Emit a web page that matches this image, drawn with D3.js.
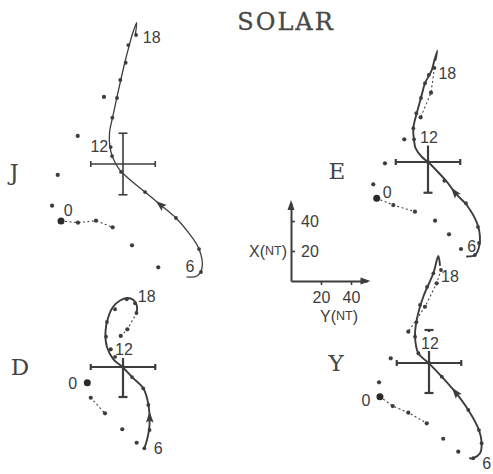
<!DOCTYPE html>
<html>
<head>
<meta charset="utf-8">
<script src="https://cdn.jsdelivr.net/npm/d3@7"></script>
<style>
  html, body { margin: 0; padding: 0; background: #fff; }
  svg { display: block; }
</style>
</head>
<body>
<svg id="chart" width="493" height="474"></svg>
<script>
// ---- Data: Sq hodographs, [ΔY, ΔX] in nT relative to the daily mean ----
const panelNames = ["J", "E", "D", "Y"];
const title = "SOLAR";

// Smooth daytime traces (hour ~6 to hour ~18)
const curveJ = [[42.7,-75.3],[49.3,-74.7],[52.7,-69.3],[50.7,-56.7],[43.3,-45.3],[35.3,-36],[26.7,-28.7],[14.7,-18.7],[3.3,-9.3],[-2.7,-3.3],[-6.7,4],[-8.7,11.3],[-9,20.7],[-6.9,31.3],[-1.5,56],[1.3,68],[4.2,79.3],[6.7,88],[9.1,94.2],[8.3,86.7]];
const curveE = [[26,-63],[31.3,-62],[34.3,-55.3],[33.5,-43.1],[25.8,-28.7],[18.7,-21.3],[12.5,-13.1],[6,-6],[0.2,-0.2],[-4.2,3.5],[-8.3,9.3],[-9.3,14.7],[-9.8,22.5],[-7.5,32.5],[-4.7,42.7],[-2,52.5],[2.5,61.3],[4.3,68],[6.2,74.2],[5,68]];
const curveD = [[14.2,-54.2],[16,-48.7],[17.7,-38.7],[17,-25.3],[13.5,-14.2],[6,-6.7],[-0.2,-0.2],[-6.5,5.3],[-10.7,13.3],[-11.7,23.3],[-10,32.7],[-6.7,40],[-2,44.3],[2.7,46],[7,44.7],[9.3,40.7],[9,36]];
const curveY = [[27.3,-63.5],[29.5,-63.5],[34,-60.2],[35.1,-53.5],[33.3,-44.7],[26.2,-31.3],[17.3,-19.1],[8.5,-9.1],[0,-0.2],[-7.1,6.5],[-9.3,17.5],[-8.2,28.7],[-3.8,44.2],[2.9,59.8],[6.2,71.3],[7.3,65.3]];

// Hourly values [hour, ΔY, ΔX], daylight hours
const dayJ = [[6,52,-72],[7,50.7,-56.7],[8,35.3,-36],[9,14.7,-18.7],[10,-1.3,-5.3],[11,-7.3,5.3],[12,-8.2,11.3],[13,-7.1,30.9],[14,-4,44],[15,-1.8,56],[16,1.8,67.5],[17,3.5,79.3],[18,8.7,86]];
const dayE = [[6,31.3,-62],[7,34,-54],[8,33.3,-43.3],[9,25.3,-27.5],[10,10.9,-12.5],[11,0,0],[12,-9.3,15.1],[13,-9.8,22.5],[14,-7.8,32.5],[15,-4.7,42.7],[16,-2,52.5],[17,0.5,58],[18,4.3,62.7]];
const dayD = [[6,14.2,-54.2],[7,17.7,-42],[8,16.9,-25.3],[9,13.5,-14.2],[10,6,-6.7],[11,0,0],[12,-5.3,6.7],[13,-11.3,20.2],[14,-10.7,30],[15,-5.3,38.5],[16,2.5,45.1],[17,8,42.5],[18,9,36]];
const dayY = [[6,29.5,-63.5],[7,35.1,-53.5],[8,33.3,-44.7],[9,26.2,-31.3],[10,8.5,-9.1],[11,0,0],[12,-7.1,6.5],[13,-9.3,17.5],[14,-8.3,27.3],[15,-6,38.7],[16,-1.3,50.7],[17,2.9,59.8],[18,8,62]];

// Hourly values [hour, ΔY, ΔX], night hours (in time order)
const nightJ = [[19,-12.7,44.7],[20,-30.2,18.7],[21,-43.5,-7.3],[22,-47.3,-27.8],[0,-41.3,-38],[1,-30,-39.1],[2,-18,-37.8],[3,-6.9,-42.2],[4,6,-54.2],[5,23.5,-68.9]];
const nightE = [[19,2,46.2],[20,-4.9,29.8],[21,-15.8,15.1],[22,-28.7,-0.9],[23,-36.5,-14.9],[0,-34.2,-24.2],[1,-23.1,-28.7],[2,-8.7,-33.1],[3,4.7,-39.1],[4,14,-48.2],[5,22,-58]];
const nightD = [[19,2.9,25.1],[20,-1.5,20.7],[21,-8.2,11.8],[0,-23.8,-10.5],[1,-21.5,-20.5],[2,-12,-30.9],[3,-0.5,-41.5],[4,9.1,-50.5]];
const nightY = [[19,5.1,53.1],[20,-2.7,37.5],[21,-13.8,20.9],[22,-25.5,3.1],[23,-33.3,-12.9],[0,-32.7,-22.5],[1,-24.2,-28.7],[2,-13.8,-33.1],[3,-1.5,-40.2],[4,9.5,-50.5],[5,19.5,-59.1]];

// Error bars (nT): ±ΔY, upward ΔX, downward ΔX
const errY = [21.5, 21.5, 21.5, 21.5];
const errXUp = [20.5, 11, 6, 22];
const errXDown = [20.5, 20.5, 20, 20];

const hourMarks = ["0", "6", "12", "18"];
const keyTicks = [20, 40];

// ---- Layout ----
const ink = "#3d3d3d";
const svg = d3.select("#chart");

// 1.5 px per nT, shared by every hodograph and the key
const s = d3.scaleLinear().domain([0, 40]).range([0, 60]);

const layout = {
  J: { cx: 123, cy: 164, lw: 1.3, bw: 1.6, capTop: true, barTopShown: 20.5, arrowHour: 8.5,
       dotted: [[0, 3]],
       labels: { "0": [-54.7, 46], "6": [67, 102.7], "12": [-23.7, -17.3], "18": [28.7, -126.7] },
       letter: [14, 172] },
  E: { cx: 428, cy: 162, lw: 1.9, bw: 2.2, capTop: false, barTopShown: 11, arrowHour: 9.5,
       dotted: [[18, 20], [0, 2]],
       labels: { "0": [-40.7, 30.7], "6": [43.7, 84.7], "12": [1, -24.7], "18": [19.3, -88.7] },
       letter: [337, 171] },
  D: { cx: 123, cy: 367, lw: 1.9, bw: 2.2, capTop: false, barTopShown: 6, arrowHour: 7.5,
       dotted: [[18, 20], [1, 2]],
       labels: { "0": [-50.3, 16.3], "6": [35.3, 81.3], "12": [1, -17.7], "18": [23.7, -71] },
       letter: [20, 367] },
  Y: { cx: 429, cy: 363, lw: 1.9, bw: 2.2, capTop: true, barTopShown: 8, arrowHour: 9.5,
       dotted: [[18, 21], [0, 3]],
       labels: { "0": [-63, 37], "6": [57.7, 100.3], "12": [1, -19.7], "18": [21, -87] },
       letter: [336, 363] }
};

const panels = panelNames.map((name, i) => ({
  name,
  curve: [curveJ, curveE, curveD, curveY][i],
  day: [dayJ, dayE, dayD, dayY][i],
  night: [nightJ, nightE, nightD, nightY][i],
  errY: errY[i], errUp: errXUp[i], errDown: errXDown[i],
  ...layout[name]
}));

// Title
svg.append("text")
  .attr("x", 286).attr("y", 30)
  .attr("text-anchor", "middle")
  .attr("font-family", "'DejaVu Serif', serif")
  .attr("font-size", 24)
  .attr("letter-spacing", 2)
  .attr("fill", "#484848").attr("stroke", "#484848").attr("stroke-width", 0.3)
  .text(title);

panels.forEach(p => {
  const g = svg.append("g").attr("transform", `translate(${p.cx},${p.cy})`);
  const px = d => s(d[0]);
  const py = d => -s(d[1]);

  // Error-bar cross
  const cross = g.append("g").attr("stroke", ink).attr("stroke-width", p.bw).attr("fill", "none");
  const ex = s(p.errY), eu = s(Math.min(p.errUp, p.barTopShown)), ed = s(p.errDown);
  cross.append("line").attr("x1", -ex).attr("x2", ex).attr("y1", 0).attr("y2", 0);
  cross.append("line").attr("x1", -ex).attr("x2", -ex).attr("y1", -3).attr("y2", 3);
  cross.append("line").attr("x1", ex).attr("x2", ex).attr("y1", -3).attr("y2", 3);
  cross.append("line").attr("x1", 0).attr("x2", 0).attr("y1", -eu).attr("y2", ed);
  cross.append("line").attr("x1", -4.5).attr("x2", 4.5).attr("y1", ed).attr("y2", ed);
  if (p.capTop) {
    const et = s(p.errUp);
    cross.append("line").attr("x1", -4.5).attr("x2", 4.5).attr("y1", -et).attr("y2", -et);
    if (p.barTopShown < p.errUp) {
      cross.append("line").attr("x1", 0).attr("x2", 0).attr("y1", -et).attr("y2", -et + 2);
    }
  }

  // Dotted night track
  const seq = [p.day[p.day.length - 1]].concat(p.night);
  const idx = h => seq.findIndex(d => d[0] === h);
  const dotLine = d3.line().x(d => s(d[1])).y(d => -s(d[2]));
  p.dotted.forEach(([a, b]) => {
    const part = seq.slice(idx(a), idx(b) + 1);
    g.append("path").attr("d", dotLine(part))
      .attr("fill", "none").attr("stroke", ink).attr("stroke-width", 1.1)
      .attr("stroke-dasharray", "1.1,3.4").attr("stroke-linecap", "round");
  });

  // Daytime trace
  const line = d3.line().x(px).y(py).curve(d3.curveCatmullRom.alpha(0.5));
  const path = g.append("path").attr("d", line(p.curve))
    .attr("fill", "none").attr("stroke", ink).attr("stroke-width", p.lw)
    .attr("stroke-linejoin", "round").attr("stroke-linecap", "round");

  // Hourly dots
  g.selectAll(".day").data(p.day).join("circle")
    .attr("cx", d => s(d[1])).attr("cy", d => -s(d[2])).attr("r", 1.9).attr("fill", ink);
  g.selectAll(".night").data(p.night).join("circle")
    .attr("cx", d => s(d[1])).attr("cy", d => -s(d[2]))
    .attr("r", d => d[0] === 0 ? 3.5 : 2.1).attr("fill", d => d[0] === 0 ? "#2a2a2a" : ink);

  // Direction arrow on the trace
  const h0 = Math.floor(p.arrowHour), f = p.arrowHour - h0;
  const A = p.day.find(d => d[0] === h0), B = p.day.find(d => d[0] === h0 + 1);
  const tx = s(A[1] + (B[1] - A[1]) * f), ty = -s(A[2] + (B[2] - A[2]) * f);
  const node = path.node(), L = node.getTotalLength();
  let best = 0, bestD = Infinity;
  for (let l = 0; l <= L; l += 0.5) {
    const q = node.getPointAtLength(l);
    const dd = (q.x - tx) ** 2 + (q.y - ty) ** 2;
    if (dd < bestD) { bestD = dd; best = l; }
  }
  const p1 = node.getPointAtLength(Math.max(0, best - 2));
  const p2 = node.getPointAtLength(Math.min(L, best + 2));
  const ang = Math.atan2(p2.y - p1.y, p2.x - p1.x) * 180 / Math.PI;
  const c = node.getPointAtLength(best);
  g.append("path").attr("d", "M6,0L-5,-3.8L-3,0L-5,3.8Z")
    .attr("transform", `translate(${c.x},${c.y}) rotate(${ang})`)
    .attr("fill", ink);

  // Hour labels
  hourMarks.forEach(h => {
    const o = p.labels[h];
    g.append("text").attr("x", o[0]).attr("y", o[1])
      .attr("text-anchor", "middle").attr("dominant-baseline", "central")
      .attr("font-family", "'Liberation Sans', Arial, sans-serif")
      .attr("font-size", 16).attr("fill", ink).text(h);
  });

  // Component letter
  svg.append("text").attr("x", p.letter[0]).attr("y", p.letter[1])
    .attr("text-anchor", "middle").attr("dominant-baseline", "central")
    .attr("font-family", "'DejaVu Serif', serif").attr("font-size", 23)
    .attr("fill", "#444")
    .text(p.name);
});

// ---- Scale key ----
const ox = 291, oy = 281;
const key = svg.append("g").attr("transform", `translate(${ox},${oy})`);
const sX = d3.scaleLinear().domain([0, 52]).range([0, -s(52)]);
const sY = d3.scaleLinear().domain([0, 51]).range([0, s(51)]);

const axX = key.append("g").call(d3.axisRight(sX).tickValues(keyTicks).tickSize(4).tickSizeOuter(0).tickPadding(6).tickFormat(d3.format("d")));
const axY = key.append("g").call(d3.axisBottom(sY).tickValues(keyTicks).tickSize(4).tickSizeOuter(0).tickPadding(7).tickFormat(d3.format("d")));
[axX, axY].forEach(ax => {
  ax.select(".domain").attr("stroke", ink).attr("stroke-width", 2);
  ax.selectAll(".tick line").attr("stroke", ink).attr("stroke-width", 1.6);
  ax.selectAll(".tick text").attr("fill", ink)
    .attr("font-family", "'Liberation Sans', Arial, sans-serif").attr("font-size", 16);
});
// arrowheads
key.append("path").attr("d", `M0,${-s(52) - 3}L-3.5,${-s(52) + 7}L3.5,${-s(52) + 7}Z`).attr("fill", ink);
key.append("path").attr("d", `M${s(51) + 3},0L${s(51) - 7},-3.5L${s(51) - 7},3.5Z`).attr("fill", ink);

const axisName = (x, y, anchor, letter) => {
  const t = key.append("text").attr("x", x).attr("y", y)
    .attr("text-anchor", anchor).attr("dominant-baseline", "central")
    .attr("font-family", "'Liberation Sans', Arial, sans-serif").attr("fill", ink);
  t.append("tspan").attr("font-size", 16).text(letter + "(");
  t.append("tspan").attr("font-size", 12.5).text("NT");
  t.append("tspan").attr("font-size", 16).text(")");
};
axisName(-4, -s(20), "end", "X");
axisName(s(32), 35, "middle", "Y");
</script>
</body>
</html>
